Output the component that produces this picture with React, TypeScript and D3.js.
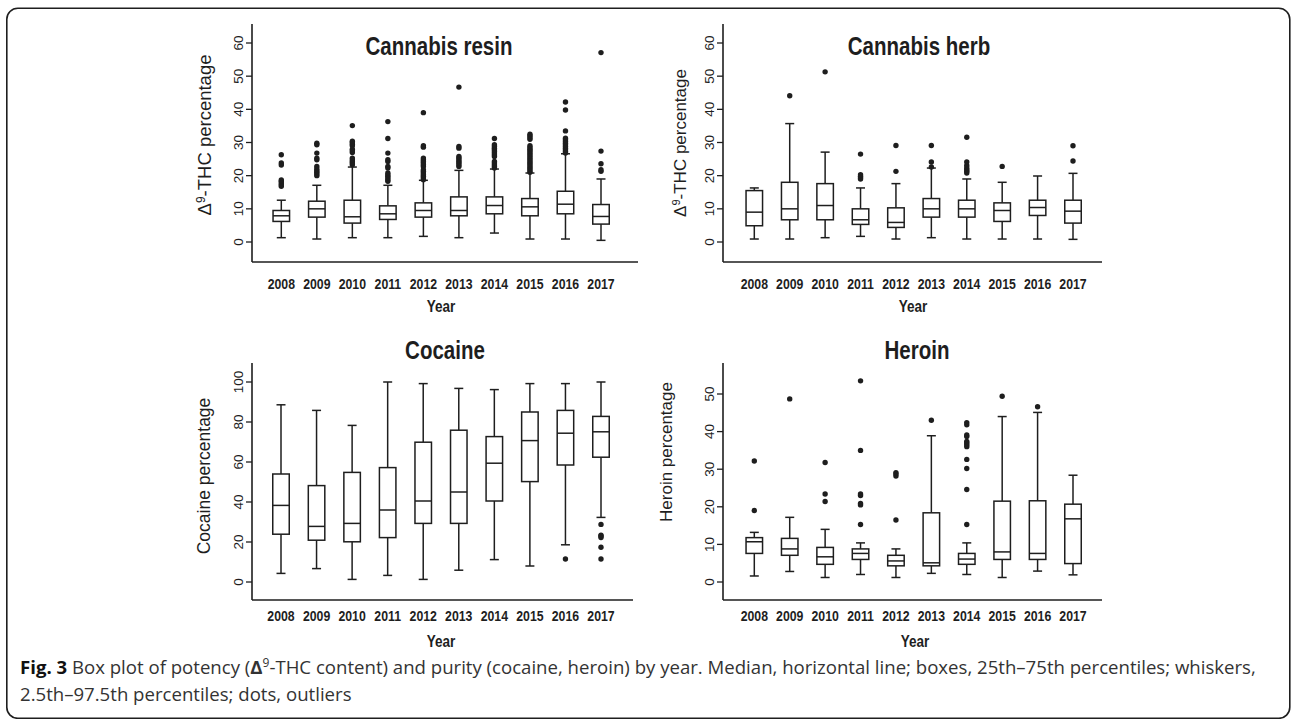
import React from 'react';
import * as d3 from 'd3';

const years = ['2008', '2009', '2010', '2011', '2012', '2013', '2014', '2015', '2016', '2017'];

// Cannabis resin
const resinLow = [1.3, 0.9, 1.3, 1.3, 1.7, 1.3, 2.7, 0.9, 0.9, 0.5];
const resinQ1 = [6.2, 7.5, 5.7, 6.8, 7.5, 7.9, 8.5, 7.9, 8.5, 5.4];
const resinMed = [7.9, 10.0, 7.6, 8.5, 9.5, 9.5, 11.0, 10.6, 11.4, 7.7];
const resinQ3 = [9.5, 12.3, 12.6, 10.9, 11.8, 13.6, 13.6, 13.1, 15.3, 11.3];
const resinHigh = [12.6, 17.1, 22.6, 17.1, 18.6, 21.6, 22.0, 20.8, 26.6, 19.0];
const resinOut = [
  [16.8, 17.3, 17.8, 18.3, 18.7, 23.2, 23.8, 26.3],
  [20.0, 20.5, 21.0, 21.5, 22.0, 22.8, 24.8, 25.3, 26.8, 29.3, 29.8],
  [23.3, 23.8, 24.3, 24.8, 25.3, 27.0, 27.5, 28.0, 29.0, 29.5, 30.0, 30.4, 35.1],
  [18.3, 18.8, 19.3, 19.8, 20.3, 20.8, 22.3, 22.8, 24.3, 24.8, 26.8, 31.2, 36.3],
  [18.8, 19.3, 19.8, 20.3, 20.8, 21.3, 21.8, 22.8, 23.3, 23.8, 24.3, 24.8, 25.3, 28.6, 29.0, 39.0],
  [22.8, 23.3, 23.8, 24.3, 24.8, 25.3, 25.8, 28.3, 28.8, 46.7],
  [22.3, 22.8, 23.3, 23.8, 24.3, 25.8, 26.3, 26.8, 27.3, 27.8, 28.3, 28.8, 29.3, 31.2],
  [21.0, 21.5, 22.0, 22.5, 23.0, 23.5, 24.0, 24.5, 25.0, 25.5, 26.0, 26.5, 27.0, 27.5, 28.0, 28.5, 29.0, 31.0, 31.5, 32.0, 32.5],
  [26.8, 27.3, 27.8, 28.3, 28.8, 29.3, 29.8, 30.3, 30.8, 31.3, 33.5, 39.8, 42.2],
  [21.3, 21.8, 23.6, 27.4, 57.1],
];

// Cannabis herb
const herbLow = [0.9, 0.9, 1.3, 1.7, 0.9, 1.3, 0.9, 0.9, 0.9, 0.8];
const herbQ1 = [4.9, 6.7, 6.7, 5.3, 4.4, 7.5, 7.5, 6.2, 8.0, 5.7];
const herbMed = [9.0, 10.0, 11.0, 6.7, 5.9, 10.0, 10.0, 9.5, 10.4, 9.3];
const herbQ3 = [15.5, 18.0, 17.6, 10.0, 10.3, 13.1, 12.6, 11.8, 12.6, 12.6];
const herbHigh = [16.3, 35.7, 27.1, 16.3, 17.6, 22.3, 19.0, 18.0, 19.9, 20.7];
const herbOut = [
  [],
  [44.1],
  [51.3],
  [19.0, 19.4, 19.8, 20.3, 26.5],
  [21.3, 29.1],
  [22.6, 24.1, 29.1],
  [20.8, 21.3, 21.8, 22.3, 23.1, 24.1, 31.6],
  [22.8],
  [],
  [24.4, 29.0],
];

// Cocaine
const cocLow = [4.3, 6.7, 1.3, 3.3, 1.3, 5.9, 11.2, 8.0, 18.6, 32.3];
const cocQ1 = [23.9, 20.9, 20.1, 22.2, 29.3, 29.3, 40.5, 50.2, 58.5, 62.4];
const cocMed = [38.3, 27.8, 29.3, 36.0, 40.5, 45.0, 59.4, 70.7, 74.4, 75.1];
const cocQ3 = [54.0, 48.2, 54.8, 57.2, 69.9, 75.9, 72.7, 85.0, 85.8, 82.8];
const cocHigh = [88.6, 85.8, 78.3, 100, 99.2, 96.8, 96.2, 99.2, 99.2, 100];
const cocOut = [[], [], [], [], [], [], [], [], [11.5], [11.5, 17.4, 22.2, 23.0, 23.4, 28.8]];

// Heroin
const herLow = [1.6, 2.8, 1.2, 2.0, 1.2, 2.3, 2.0, 1.2, 2.9, 1.9];
const herQ1 = [7.6, 7.1, 4.7, 6.0, 4.3, 4.3, 4.7, 6.0, 6.0, 4.9];
const herMed = [10.7, 8.8, 6.7, 7.6, 5.6, 5.1, 6.1, 8.0, 7.6, 16.8];
const herQ3 = [11.8, 11.6, 9.2, 8.8, 7.1, 18.4, 7.6, 21.5, 21.6, 20.7];
const herHigh = [13.2, 17.2, 14.0, 10.4, 8.8, 38.9, 10.4, 44.0, 45.1, 28.4];
const herOut = [
  [19.0, 32.2],
  [48.7],
  [21.4, 23.4, 31.8],
  [15.3, 20.5, 20.9, 23.0, 23.4, 35.0, 53.5],
  [16.5, 28.2, 28.7, 29.1],
  [43.0],
  [15.3, 24.6, 30.2, 32.6, 36.0, 36.5, 37.0, 37.4, 38.7, 39.1, 41.8, 42.4],
  [49.4],
  [46.6],
  [],
];

const resinTicks = [0, 10, 20, 30, 40, 50, 60];
const herbTicks = [0, 10, 20, 30, 40, 50, 60];
const cocTicks = [0, 20, 40, 60, 80, 100];
const herTicks = [0, 10, 20, 30, 40, 50];

const INK = '#1e1e1e';
const SANS = '"Liberation Sans", Arial, sans-serif';
const SQ = 0.82; // horizontal condensing of the figure's lettering

type PanelProps = {
  title: string;
  yLabel: React.ReactNode;
  yLabelSize: number;
  low: number[]; q1: number[]; med: number[]; q3: number[]; high: number[]; out: number[][];
  ticks: number[];
  yDomain: [number, number];
  yRange: [number, number];
  axisX: number; axisRight: number; axisTop: number; axisBottom: number;
  firstX: number; lastX: number;
  titleX: number; titleY: number;
  yLabelX: number; yLabelY: number;
  yearY: number; yearTitleX: number; yearTitleY: number;
};

function NarrowText(props: { x: number; y: number; size: number; children: React.ReactNode }) {
  return (
    <text
      transform={`translate(${props.x},${props.y}) scale(${SQ},1)`}
      textAnchor="middle"
      fontFamily={SANS}
      fontWeight="bold"
      fontSize={props.size}
      fill={INK}
    >
      {props.children}
    </text>
  );
}

function Panel(p: PanelProps) {
  const y = d3.scaleLinear().domain(p.yDomain).range(p.yRange);
  const x = d3.scalePoint<string>().domain(years).range([p.firstX, p.lastX]);
  const bw = 16.5;
  const cap = 9;
  return (
    <g>
      <NarrowText x={p.titleX} y={p.titleY} size={25}>{p.title}</NarrowText>
      <line x1={p.axisX} x2={p.axisX} y1={p.axisTop} y2={p.axisBottom} stroke={INK} strokeWidth={1.6} />
      <line x1={p.axisX} x2={p.axisRight} y1={p.axisBottom} y2={p.axisBottom} stroke={INK} strokeWidth={1.6} />
      {p.ticks.map((t) => (
        <g key={t}>
          <line x1={p.axisX - 6} x2={p.axisX} y1={y(t)} y2={y(t)} stroke={INK} strokeWidth={1.3} />
          <text
            transform={`translate(${p.axisX - 9},${y(t)}) rotate(-90)`}
            textAnchor="middle"
            fontFamily={SANS}
            fontSize={13.5}
            fill={INK}
          >
            {t}
          </text>
        </g>
      ))}
      <text
        transform={`translate(${p.yLabelX},${p.yLabelY}) rotate(-90)`}
        textAnchor="middle"
        fontFamily={SANS}
        fontSize={p.yLabelSize}
        fill={INK}
      >
        {p.yLabel}
      </text>
      {years.map((yr, i) => {
        const cx = x(yr) as number;
        return (
          <g key={yr}>
            <line x1={cx} x2={cx} y1={y(p.high[i])} y2={y(p.q3[i])} stroke={INK} strokeWidth={1.5} />
            <line x1={cx} x2={cx} y1={y(p.q1[i])} y2={y(p.low[i])} stroke={INK} strokeWidth={1.5} />
            <line x1={cx - cap / 2} x2={cx + cap / 2} y1={y(p.high[i])} y2={y(p.high[i])} stroke={INK} strokeWidth={1.5} />
            <line x1={cx - cap / 2} x2={cx + cap / 2} y1={y(p.low[i])} y2={y(p.low[i])} stroke={INK} strokeWidth={1.5} />
            <rect
              x={cx - bw / 2}
              y={y(p.q3[i])}
              width={bw}
              height={y(p.q1[i]) - y(p.q3[i])}
              fill="white"
              stroke={INK}
              strokeWidth={1.5}
            />
            <line x1={cx - bw / 2} x2={cx + bw / 2} y1={y(p.med[i])} y2={y(p.med[i])} stroke={INK} strokeWidth={1.5} />
            {p.out[i].map((v, j) => (
              <circle key={j} cx={cx} cy={y(v)} r={2.7} fill={INK} />
            ))}
            <NarrowText x={cx} y={p.yearY} size={15}>{yr}</NarrowText>
          </g>
        );
      })}
      <NarrowText x={p.yearTitleX} y={p.yearTitleY} size={16.5}>Year</NarrowText>
    </g>
  );
}

const thcLabel = (
  <>
    <tspan>Δ</tspan>
    <tspan dy={-6} fontSize="0.65em">9</tspan>
    <tspan dy={6}>-THC percentage</tspan>
  </>
);

const CAPTION_FONT = '"Open Sans", Lato, sans-serif';

export default function App() {
  return (
    <svg width={1292} height={719} style={{ position: 'absolute', left: 0, top: 0, background: 'white' }}>
      <rect x={6.8} y={8.3} width={1283} height={710} rx={11} ry={11} fill="white" stroke={INK} strokeWidth={1.6} />
      <Panel
        title="Cannabis resin"
        yLabel={thcLabel}
        yLabelSize={18.5}
        low={resinLow} q1={resinQ1} med={resinMed} q3={resinQ3} high={resinHigh} out={resinOut}
        ticks={resinTicks}
        yDomain={[0, 60]} yRange={[242, 43]}
        axisX={252} axisRight={638} axisTop={24} axisBottom={262}
        firstX={281.3} lastX={601}
        titleX={439} titleY={55}
        yLabelX={211} yLabelY={135}
        yearY={289} yearTitleX={441} yearTitleY={312}
      />
      <Panel
        title="Cannabis herb"
        yLabel={thcLabel}
        yLabelSize={17}
        low={herbLow} q1={herbQ1} med={herbMed} q3={herbQ3} high={herbHigh} out={herbOut}
        ticks={herbTicks}
        yDomain={[0, 60]} yRange={[242, 43]}
        axisX={723} axisRight={1102} axisTop={24} axisBottom={262}
        firstX={754.3} lastX={1073}
        titleX={919} titleY={55}
        yLabelX={686} yLabelY={143}
        yearY={289} yearTitleX={913} yearTitleY={312}
      />
      <Panel
        title="Cocaine"
        yLabel="Cocaine percentage"
        yLabelSize={17.5}
        low={cocLow} q1={cocQ1} med={cocMed} q3={cocQ3} high={cocHigh} out={cocOut}
        ticks={cocTicks}
        yDomain={[0, 100]} yRange={[582, 382]}
        axisX={252} axisRight={633} axisTop={363} axisBottom={600}
        firstX={281} lastX={601}
        titleX={445} titleY={359}
        yLabelX={210} yLabelY={476}
        yearY={621} yearTitleX={441} yearTitleY={647}
      />
      <Panel
        title="Heroin"
        yLabel="Heroin percentage"
        yLabelSize={17}
        low={herLow} q1={herQ1} med={herMed} q3={herQ3} high={herHigh} out={herOut}
        ticks={herTicks}
        yDomain={[0, 50]} yRange={[582, 394]}
        axisX={723} axisRight={1102} axisTop={363} axisBottom={600}
        firstX={754.3} lastX={1073}
        titleX={917} titleY={359}
        yLabelX={672} yLabelY={452}
        yearY={621} yearTitleX={915} yearTitleY={647}
      />
      <text x={20} y={674} fontFamily={CAPTION_FONT} fontSize={18.6} fill="#333">
        <tspan fontWeight="bold" fill="#111">Fig. 3</tspan>
        <tspan> Box plot of potency (</tspan>
        <tspan fontWeight="bold">Δ</tspan>
        <tspan dy={-7} fontSize={12}>9</tspan>
        <tspan dy={7}>-THC content) and purity (cocaine, heroin) by year. Median, horizontal line; boxes, 25th–75th percentiles; whiskers,</tspan>
      </text>
      <text x={20} y={701} fontFamily={CAPTION_FONT} fontSize={18.6} fill="#333">
        2.5th–97.5th percentiles; dots, outliers
      </text>
    </svg>
  );
}
